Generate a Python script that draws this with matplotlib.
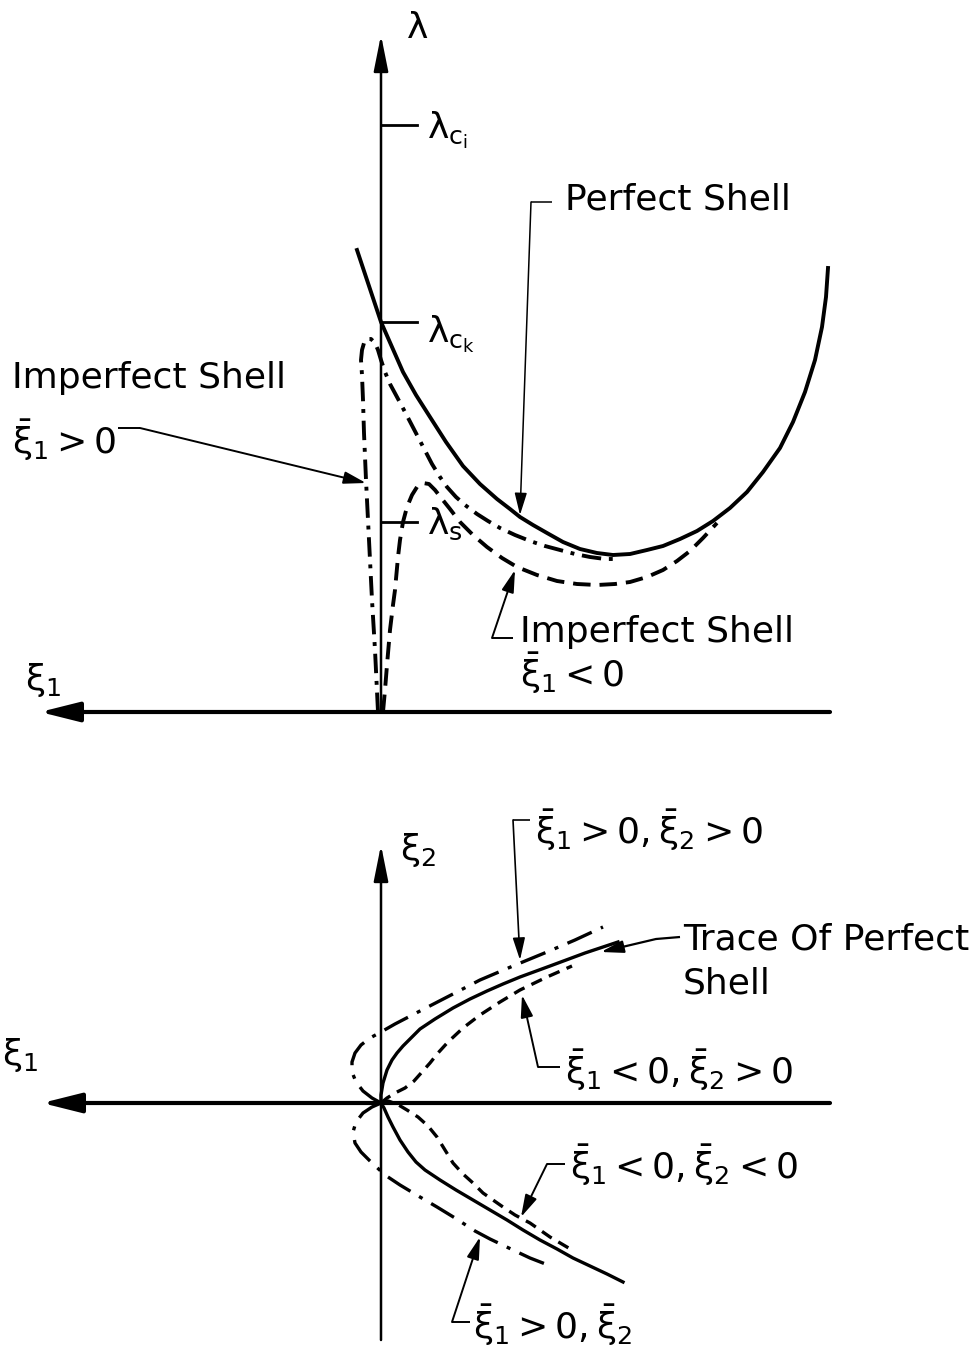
import matplotlib
matplotlib.use("Agg")
import matplotlib.pyplot as plt

plt.rcParams["font.family"] = ["DejaVu Sans"]
plt.rcParams["mathtext.fontset"] = "dejavusans"
plt.rcParams["mathtext.default"] = "regular"

# ---------------- load-deflection diagram (xi1 grows to the left) ----------------
perfect_xi1 = [0.24, 0.16, 0.08, 0.00, -0.11, -0.22, -0.35, -0.49, -0.65,
               -0.82, -0.99, -1.16, -1.29, -1.39, -1.52, -1.66, -1.82, -1.99, -2.16,
               -2.32, -2.49, -2.66, -2.82, -2.99, -3.16, -3.32, -3.49, -3.66, -3.82,
               -3.99, -4.12, -4.24, -4.34, -4.41, -4.45, -4.47]
perfect_lam = [4.62, 4.38, 4.14, 3.90, 3.65, 3.40, 3.17, 2.95, 2.70,
               2.46, 2.28, 2.13, 2.03, 1.95, 1.87, 1.79, 1.70, 1.63, 1.59,
               1.57, 1.58, 1.62, 1.66, 1.73, 1.81, 1.91, 2.04, 2.20, 2.40,
               2.64, 2.90, 3.20, 3.52, 3.85, 4.15, 4.44]

imp_pos_xi1 = [0.03, 0.06, 0.09, 0.12, 0.15, 0.17, 0.18, 0.19, 0.20, 0.19, 0.17, 0.14,
               0.10, 0.06, 0.03, 0.00, -0.04, -0.09, -0.16, -0.24, -0.37, -0.51, -0.59,
               -0.66, -0.75, -0.84, -0.96, -1.07, -1.19, -1.34, -1.49, -1.64, -1.79,
               -1.94, -2.09, -2.24, -2.39]
imp_pos_lam = [0.00, 0.62, 1.12, 1.72, 2.32, 2.79, 3.12, 3.37, 3.52, 3.62, 3.69, 3.73,
               3.73, 3.69, 3.62, 3.52, 3.40, 3.28, 3.15, 3.00, 2.75, 2.48, 2.35,
               2.25, 2.15, 2.07, 1.98, 1.91, 1.84, 1.77, 1.71, 1.66, 1.62,
               1.58, 1.55, 1.53, 1.53]

imp_neg_xi1 = [-0.02, -0.04, -0.06, -0.09, -0.12, -0.14, -0.17, -0.19, -0.22, -0.26, -0.31,
               -0.36, -0.42, -0.48, -0.54, -0.61, -0.69, -0.79, -0.92, -1.06, -1.21,
               -1.36, -1.56, -1.76, -1.96, -2.16, -2.34, -2.49, -2.66, -2.82, -2.96,
               -3.09, -3.22, -3.36]
imp_neg_lam = [0.00, 0.22, 0.47, 0.82, 1.07, 1.22, 1.55, 1.72, 1.90, 2.05, 2.17,
               2.25, 2.29, 2.28, 2.22, 2.13, 2.03, 1.90, 1.77, 1.65, 1.54,
               1.45, 1.37, 1.31, 1.28, 1.27, 1.28, 1.30, 1.35, 1.42, 1.51,
               1.61, 1.74, 1.89]

lam_ci, lam_ck, lam_s = 5.87, 3.90, 1.90

# ---------------- trace in the xi1-xi2 plane ----------------
trace_up_xi1 = [0.00, 0.00, -0.02, -0.06, -0.11, -0.16, -0.22, -0.29, -0.39, -0.54, -0.72,
                -0.89, -1.06, -1.22, -1.39, -1.69, -2.04, -2.37]
trace_up_xi2 = [0.00, 0.08, 0.20, 0.33, 0.43, 0.50, 0.57, 0.64, 0.74, 0.84, 0.95,
                1.04, 1.12, 1.19, 1.26, 1.37, 1.50, 1.61]
trace_dn_xi1 = [0.00, -0.03, -0.07, -0.12, -0.19, -0.27, -0.35, -0.44, -0.59, -0.75, -0.92,
                -1.09, -1.26, -1.42, -1.59, -1.76, -1.92, -2.09, -2.26, -2.42]
trace_dn_xi2 = [0.00, -0.05, -0.14, -0.24, -0.37, -0.49, -0.59, -0.67, -0.77, -0.87, -0.97,
                -1.07, -1.17, -1.27, -1.37, -1.46, -1.55, -1.63, -1.71, -1.79]

pp_xi1 = [0.00, 0.09, 0.18, 0.25, 0.29, 0.29, 0.26, 0.20, 0.11, 0.00, -0.14, -0.39,
          -0.72, -0.99, -1.32, -1.66, -1.94, -2.22]
pp_xi2 = [0.00, 0.05, 0.12, 0.21, 0.31, 0.41, 0.50, 0.58, 0.65, 0.71, 0.79, 0.92,
          1.09, 1.23, 1.37, 1.51, 1.63, 1.76]
pn_xi1 = [0.00, 0.09, 0.18, 0.25, 0.28, 0.26, 0.20, 0.11, -0.04, -0.19, -0.39, -0.56,
          -0.74, -0.94, -1.09, -1.32, -1.49, -1.67]
pn_xi2 = [0.00, -0.04, -0.10, -0.19, -0.29, -0.40, -0.49, -0.58, -0.72, -0.82, -0.94, -1.04,
          -1.15, -1.28, -1.36, -1.47, -1.55, -1.62]
np_xi1 = [0.00, -0.06, -0.14, -0.24, -0.33, -0.41, -0.49, -0.57, -0.67, -0.82, -0.99,
          -1.19, -1.39, -1.66, -1.91]
np_xi2 = [0.00, 0.05, 0.10, 0.15, 0.22, 0.31, 0.40, 0.50, 0.61, 0.75, 0.88,
          1.01, 1.13, 1.26, 1.37]
nn_xi1 = [0.00, -0.07, -0.16, -0.26, -0.37, -0.47, -0.56, -0.64, -0.72, -0.82, -0.92,
          -1.02, -1.12, -1.22, -1.34, -1.49, -1.69, -1.91]
nn_xi2 = [0.00, 0.02, -0.01, -0.07, -0.14, -0.23, -0.34, -0.47, -0.60, -0.71, -0.80,
          -0.90, -0.97, -1.04, -1.12, -1.20, -1.34, -1.47]

W, H = 978, 1356
fig = plt.figure(figsize=(W / 100, H / 100), dpi=100)
top = fig.add_axes([0, (H - 740) / H, 1, 740 / H])
bot = fig.add_axes([0, 0, 1, 616 / H])
top.set_xlim(3.81, -5.97)
top.set_ylim(-0.28, 7.12)
bot.set_xlim(3.81, -5.97)
bot.set_ylim(-2.53, 3.63)
for a in (top, bot):
    a.set_axis_off()

FS = 26
DASHDOT = (0, (5, 2, 1, 2))
DASHED = (0, (4.5, 2.3))


def arrow(ax, start, tip, lw=1.4, scale=15, hl=0.9, hw=0.25):
    ax.annotate("", xy=tip, xytext=start,
                arrowprops=dict(arrowstyle=f"-|>,head_length={hl},head_width={hw}",
                                lw=lw, color="black", shrinkA=0, shrinkB=0,
                                mutation_scale=scale))


def leader(ax, xs, ys, lw=1.4):
    ax.plot(xs[:-1], ys[:-1], color="black", lw=lw, solid_capstyle="butt")
    arrow(ax, (xs[-2], ys[-2]), (xs[-1], ys[-1]), lw=lw)


# ---- top panel ----
arrow(top, (-4.49, 0), (3.41, 0), lw=3.0, scale=20, hl=1.2, hw=0.3)
arrow(top, (0, 0), (0, 6.77), lw=1.8, scale=20, hl=1.1, hw=0.22)
top.text(-0.36, 6.84, r"$\lambda$", fontsize=FS, ha="center", va="center")
top.text(3.38, 0.32, r"$\xi_1$", fontsize=FS, ha="center", va="center")

top.plot(perfect_xi1, perfect_lam, color="black", lw=2.8, solid_joinstyle="round")
top.plot(imp_pos_xi1, imp_pos_lam, color="black", lw=2.8, linestyle=DASHDOT)
top.plot(imp_neg_xi1, imp_neg_lam, color="black", lw=2.8, linestyle=DASHED)

for lam, lab, dy in ((lam_ci, r"$\lambda_{c_i}$", -0.05), (lam_ck, r"$\lambda_{c_k}$", -0.12),
                     (lam_s, r"$\lambda_s$", -0.02)):
    top.plot([-0.01, -0.36], [lam, lam], color="black", lw=2.0)
    top.text(-0.46, lam + dy, lab, fontsize=FS, ha="left", va="center")

top.text(-1.84, 5.12, "Perfect Shell", fontsize=FS, ha="left", va="center")
leader(top, [-1.71, -1.50, -1.39], [5.10, 5.10, 1.97], lw=1.1)

top.text(3.69, 3.34, "Imperfect Shell", fontsize=FS, ha="left", va="center")
top.text(3.69, 2.72, r"$\bar{\xi}_1 > 0$", fontsize=FS, ha="left", va="center")
leader(top, [2.63, 2.41, 0.15], [2.84, 2.84, 2.29])

top.text(-1.39, 0.80, "Imperfect Shell", fontsize=FS, ha="left", va="center")
top.text(-1.39, 0.39, r"$\bar{\xi}_1 < 0$", fontsize=FS, ha="left", va="center")
leader(top, [-1.32, -1.11, -1.34], [0.74, 0.74, 1.42])

# ---- bottom panel ----
arrow(bot, (-4.49, 0), (3.39, 0), lw=3.0, scale=20, hl=1.2, hw=0.3)
arrow(bot, (0, -2.37), (0, 2.58), lw=1.8, scale=20, hl=1.1, hw=0.22)
bot.text(-0.19, 2.53, r"$\xi_2$", fontsize=FS, ha="left", va="center")
bot.text(3.61, 0.48, r"$\xi_1$", fontsize=FS, ha="center", va="center")

BDASHDOT = (0, (8, 3, 1.2, 3))
BDASHED = (0, (3.5, 2.3))
bot.plot(trace_up_xi1, trace_up_xi2, color="black", lw=2.4)
bot.plot(trace_dn_xi1, trace_dn_xi2, color="black", lw=2.4)
bot.plot(pp_xi1, pp_xi2, color="black", lw=2.4, linestyle=BDASHDOT)
bot.plot(pn_xi1, pn_xi2, color="black", lw=2.4, linestyle=BDASHDOT)
bot.plot(np_xi1, np_xi2, color="black", lw=2.4, linestyle=BDASHED)
bot.plot(nn_xi1, nn_xi2, color="black", lw=2.4, linestyle=BDASHED)

bot.text(-1.54, 2.73, r"$\bar{\xi}_1 > 0, \bar{\xi}_2 > 0$", fontsize=FS, ha="left", va="center")
leader(bot, [-1.49, -1.32, -1.39], [2.83, 2.83, 1.43], lw=1.2)

bot.text(-3.02, 1.63, "Trace Of Perfect", fontsize=FS, ha="left", va="center")
bot.text(-3.02, 1.20, "Shell", fontsize=FS, ha="left", va="center")
leader(bot, [-2.99, -2.75, -2.20], [1.66, 1.64, 1.51], lw=1.6)

bot.text(-1.84, 0.33, r"$\bar{\xi}_1 < 0,\bar{\xi}_2 > 0$", fontsize=FS, ha="left", va="center")
leader(bot, [-1.79, -1.57, -1.41], [0.36, 0.36, 1.08])

bot.text(-1.89, -0.62, r"$\bar{\xi}_1 < 0,\bar{\xi}_2 < 0$", fontsize=FS, ha="left", va="center")
leader(bot, [-1.84, -1.66, -1.40], [-0.61, -0.61, -1.14])

bot.text(-0.92, -2.22, r"$\bar{\xi}_1 > 0,\bar{\xi}_2$", fontsize=FS, ha="left", va="center")
leader(bot, [-0.89, -0.71, -0.99], [-2.19, -2.19, -1.34])

fig.savefig("out.png", dpi=100, facecolor="white")
